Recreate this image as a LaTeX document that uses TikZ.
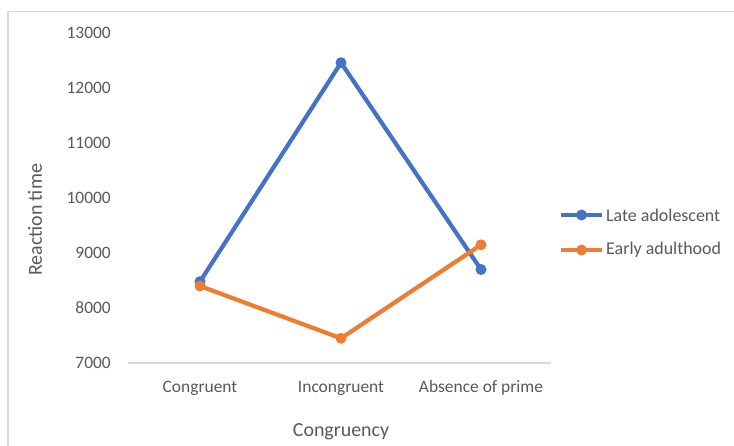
\documentclass[tikz,border=0pt]{standalone}
\usepackage{fontspec}
\setmainfont{Carlito}
\definecolor{txt}{HTML}{595959}
\definecolor{grid}{HTML}{D9D9D9}
\definecolor{serA}{HTML}{4472C4}
\definecolor{serB}{HTML}{ED7D31}
\begin{document}
\begin{tikzpicture}[x=1bp,y=-1bp,
  ticklbl/.style={text=txt,font=\fontsize{17.5}{20}\selectfont,anchor=east,inner sep=0pt},
  catlbl/.style={text=txt,font=\fontsize{17.5}{20}\selectfont,anchor=center,inner sep=0pt},
  titlelbl/.style={text=txt,font=\fontsize{20}{24}\selectfont,anchor=center,inner sep=0pt},
  leglbl/.style={text=txt,font=\fontsize{18}{22}\selectfont,anchor=west,inner sep=0pt},
  serline/.style={line width=4.2bp,line join=round,line cap=round},
  mk/.style={circle,fill=#1,minimum size=11bp,inner sep=0pt}]
\useasboundingbox (0,0) rectangle (734,446);
\fill[white] (0,0) rectangle (734,446);
% chart border
\draw[grid,line width=1.2bp] (8,460) -- (8,11.5) -- (740,11.5);
% tick labels
\foreach \v/\yy in {13000/33,12000/88,11000/143,10000/198,9000/253,8000/308,7000/363}
  \node[ticklbl] (t\v) at (111,\yy) {\v};
% axis
\coordinate (axL) at (128,363);
\coordinate (axR) at (551,363);
\draw[grid,line width=1.2bp] (axL) -- (axR);
% categories
\node[catlbl] (c1) at (200,388) {Congruent};
\node[catlbl] (c2) at (341,388) {Incongruent};
\node[catlbl] (c3) at (481,388) {Absence of prime};
% axis titles
\node[titlelbl] (xt) at (341,432) {Congruency};
\node[titlelbl,rotate=90] (yt) at (35,220) {Reaction time};
% series data
\coordinate (a1) at (200,281.6);
\coordinate (a2) at (341,62.7);
\coordinate (a3) at (481,269.5);
\coordinate (b1) at (200,286);
\coordinate (b2) at (341,338.3);
\coordinate (b3) at (481,244.8);
\draw[serline,serA] (a1) -- (a2) -- (a3);
\foreach \p in {a1,a2,a3} \node[mk=serA] at (\p) {};
\draw[serline,serB] (b1) -- (b2) -- (b3);
\foreach \p in {b1,b2,b3} \node[mk=serB] at (\p) {};
% legend
\coordinate (la1) at (561,215);
\coordinate (la2) at (602,215);
\coordinate (lb1) at (561,250);
\coordinate (lb2) at (602,250);
\draw[serline,serA,line cap=butt] (la1) -- (la2);
\node[mk=serA] (lam) at (581.5,215) {};
\draw[serline,serB,line cap=butt] (lb1) -- (lb2);
\node[mk=serB] (lbm) at (581.5,250) {};
\node[leglbl] (la) at (606,215) {Late adolescent};
\node[leglbl] (lb) at (606,250) {Early adulthood};
\end{tikzpicture}
\end{document}
